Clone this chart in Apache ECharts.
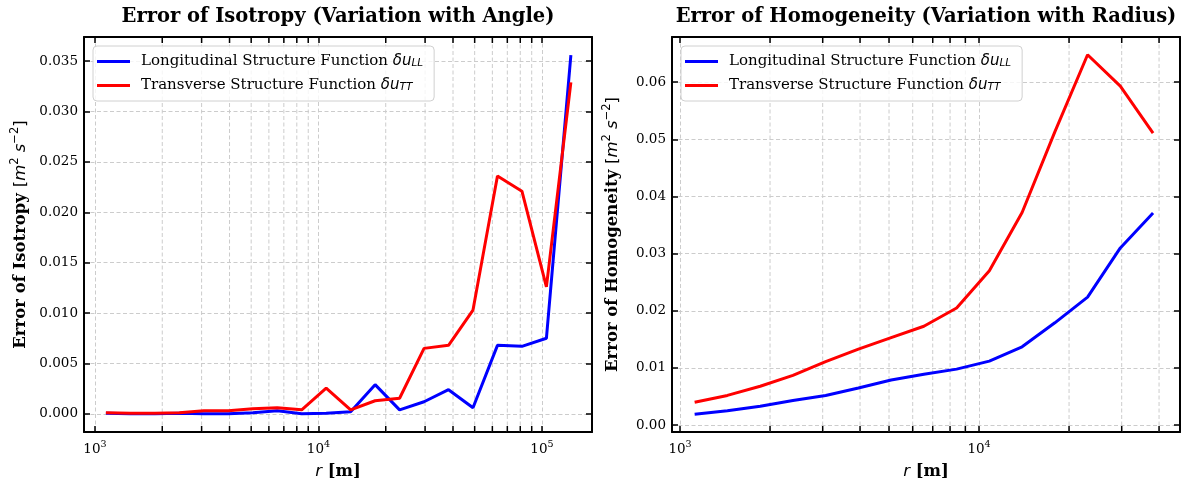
<!DOCTYPE html>
<html>
<head>
<meta charset="utf-8">
<script src="https://cdn.jsdelivr.net/npm/echarts@6/dist/echarts.min.js"></script>
<style>html,body{margin:0;padding:0;background:#fff}#main{width:1189px;height:489px}</style>
</head>
<body>
<div id="main"></div>
<script>
// separation r [m], shared by both panels
var r_vals = [1119, 1440, 1854, 2385, 3069, 3950, 5082, 6539, 8414, 10827, 13932, 17926, 23067, 29681, 38194, 49145, 63241, 81376, 104713, 134742];

// left: error of isotropy
var iso_LL = [0.00005, 0.0, 0.0, 0.00005, 0.0, 0.0, 0.0001, 0.0003, 0.0, 0.00005, 0.0002, 0.0029, 0.0004, 0.0012, 0.0024, 0.0006, 0.0068, 0.0067, 0.0075, 0.0356];
var iso_TT = [0.0001, 0.00007, 0.00005, 0.0001, 0.0003, 0.0003, 0.0005, 0.0006, 0.0004, 0.00255, 0.0004, 0.0013, 0.00155, 0.0065, 0.0068, 0.0103, 0.0236, 0.0221, 0.0126, 0.0329];

// right: error of homogeneity (first 15 r)
var homo_LL = [0.0019, 0.0025, 0.0033, 0.0043, 0.0052, 0.0065, 0.0079, 0.0089, 0.0098, 0.0112, 0.0137, 0.0179, 0.0224, 0.0310, 0.0371];
var homo_TT = [0.0040, 0.0052, 0.0068, 0.0087, 0.0111, 0.0133, 0.0153, 0.0173, 0.0205, 0.0270, 0.0372, 0.0513, 0.0648, 0.0593, 0.0511];

var seriesNames = ['Longitudinal Structure Function', 'Transverse Structure Function'];
var seriesSubs = ['LL', 'TT'];
var seriesColors = ['#0000ff', '#ff0000'];
var titles = ['Error of Isotropy (Variation with Angle)', 'Error of Homogeneity (Variation with Radius)'];
var yNames = ['Error of Isotropy', 'Error of Homogeneity'];

// minor ticks of the log axes
var minorLeft = [2000, 3000, 4000, 5000, 6000, 7000, 8000, 9000, 20000, 30000, 40000, 50000, 60000, 70000, 80000, 90000];
var minorRight = [2000, 3000, 4000, 5000, 6000, 7000, 8000, 9000, 20000, 30000, 40000];

var chart = echarts.init(document.getElementById('main'));

var FONT = 'DejaVu Serif';
var MATH = 'DejaVu Sans';

// panel ranges
var xRange = [[893, 167500], [940, 47000]];
var yRange = [[-0.0018, 0.0374], [-0.0012, 0.0679]];
var ySplit = [8, 7];
var yDigits = [3, 2];
var gridLeft = [84, 672];
var centers = [338, 926];

var gridLine = {show: true, lineStyle: {color: '#cccccc', width: 1, type: [4, 2.5]}};
var tick = {show: true, inside: true, length: 6, lineStyle: {color: '#000', width: 1.5}};
var frame = {show: true, onZero: false, lineStyle: {color: '#000', width: 2}};

function pairs(xs, ys) {
  var out = [];
  for (var i = 0; i < ys.length; i++) out.push([xs[i], ys[i]]);
  return out;
}

// minor grid lines + inward minor ticks (bottom and top) of a log axis
function minorSeries(k, ticks) {
  var y0 = yRange[k][0], y1 = yRange[k][1];
  return {
    type: 'custom', xAxisIndex: 2 * k, yAxisIndex: 2 * k, silent: true, z: 1,
    data: ticks.map(function (v) { return [v, 0]; }),
    encode: {x: 0, y: 1},
    renderItem: function (params, api) {
      var v = api.value(0);
      var p0 = api.coord([v, y0]);
      var p1 = api.coord([v, y1]);
      return {type: 'group', children: [
        {type: 'line', shape: {x1: p0[0], y1: p0[1], x2: p1[0], y2: p1[1]}, style: {stroke: '#cccccc', lineWidth: 1, lineDash: [4, 2.5]}},
        {type: 'line', shape: {x1: p0[0], y1: p0[1], x2: p0[0], y2: p0[1] - 6}, style: {stroke: '#000', lineWidth: 1.5}},
        {type: 'line', shape: {x1: p1[0], y1: p1[1], x2: p1[0], y2: p1[1] + 6}, style: {stroke: '#000', lineWidth: 1.5}}
      ]};
    }
  };
}

var grids = [], xAxes = [], yAxes = [], legends = [], titleList = [];
for (var k = 0; k < 2; k++) {
  grids.push({left: gridLeft[k], top: 37, width: 508, height: 395});
  titleList.push({
    text: titles[k], left: centers[k], top: 7, textAlign: 'center', padding: 0,
    textStyle: {fontFamily: FONT, fontWeight: 'bold', fontSize: 19.5, color: '#000'}
  });
  // bottom + top x axes
  xAxes.push({
    type: 'log', logBase: 10, gridIndex: k, position: 'bottom', min: xRange[k][0], max: xRange[k][1],
    axisLine: frame, axisTick: tick, splitLine: gridLine, minorTick: {show: false},
    axisLabel: {
      showMinLabel: false, showMaxLabel: false, margin: 8, color: '#000',
      formatter: function (v) { return '{b|10}{sup|' + Math.round(Math.log10(v)) + '}'; },
      rich: {
        b: {fontFamily: FONT, fontSize: 13.5, color: '#000', lineHeight: 18},
        sup: {fontFamily: FONT, fontSize: 9.5, color: '#000', verticalAlign: 'top', lineHeight: 10}
      }
    },
    name: '{i|r}{b| [m]}', nameLocation: 'middle', nameGap: 31,
    nameTextStyle: {
      rich: {
        i: {fontFamily: MATH, fontStyle: 'italic', fontSize: 16.5, color: '#000'},
        b: {fontFamily: FONT, fontWeight: 'bold', fontSize: 16.5, color: '#000'}
      }
    }
  });
  xAxes.push({
    type: 'log', logBase: 10, gridIndex: k, position: 'top', min: xRange[k][0], max: xRange[k][1],
    axisLine: frame, axisTick: tick, axisLabel: {show: false}, splitLine: {show: false}
  });
  // left + right y axes
  yAxes.push({
    type: 'value', gridIndex: k, position: 'left', min: yRange[k][0], max: yRange[k][1], splitNumber: ySplit[k],
    axisLine: frame, axisTick: tick, splitLine: gridLine,
    axisLabel: {
      showMinLabel: false, showMaxLabel: false, margin: 6, color: '#000', fontFamily: FONT, fontSize: 13.5,
      formatter: (function (d) { return function (v) { return v.toFixed(d); }; })(yDigits[k])
    },
    name: '{b|' + yNames[k] + ' }{r|[}{i|m}{sup|2}{i| s}{sup|−2}{r|]}', nameLocation: 'middle', nameGap: [51, 47][k],
    nameTextStyle: {
      rich: {
        b: {fontFamily: FONT, fontWeight: 'bold', fontSize: 16.5, color: '#000', lineHeight: 24},
        r: {fontFamily: MATH, fontSize: 16.5, color: '#000', lineHeight: 24},
        i: {fontFamily: MATH, fontStyle: 'italic', fontSize: 16.5, color: '#000', lineHeight: 24},
        sup: {fontFamily: MATH, fontSize: 11.5, color: '#000', verticalAlign: 'top', lineHeight: 13}
      }
    }
  });
  yAxes.push({
    type: 'value', gridIndex: k, position: 'right', min: yRange[k][0], max: yRange[k][1], splitNumber: ySplit[k],
    axisLine: frame, axisTick: tick, axisLabel: {show: false}, splitLine: {show: false}
  });
  legends.push({
    left: gridLeft[k] + 9, top: 46, orient: 'vertical', data: seriesNames, selectedMode: false,
    icon: 'rect', itemWidth: 33, itemHeight: 3, itemGap: 9,
    padding: [8, 11, 8, 4], borderColor: '#d0d0d0', borderWidth: 1, borderRadius: 4,
    backgroundColor: 'rgba(255,255,255,0.8)', z: 10,
    formatter: function (name) {
      return name + ' {m|δu}{s|' + seriesSubs[seriesNames.indexOf(name)] + '}';
    },
    textStyle: {
      fontFamily: FONT, fontSize: 15, color: '#000', padding: [0, 0, 0, 6],
      rich: {
        m: {fontFamily: MATH, fontStyle: 'italic', fontSize: 15, color: '#000'},
        s: {fontFamily: MATH, fontStyle: 'italic', fontSize: 10.5, color: '#000', verticalAlign: 'bottom', lineHeight: 10}
      }
    }
  });
}

function lineSeries(k, idx, ys) {
  return {
    name: seriesNames[idx], type: 'line', xAxisIndex: 2 * k, yAxisIndex: 2 * k,
    data: pairs(r_vals, ys), showSymbol: false, symbol: 'none', z: 3,
    color: seriesColors[idx],
    lineStyle: {color: seriesColors[idx], width: 3}
  };
}

chart.setOption({
  backgroundColor: '#fff',
  animation: false,
  title: titleList,
  grid: grids,
  xAxis: xAxes,
  yAxis: yAxes,
  legend: legends,
  series: [
    minorSeries(0, minorLeft),
    minorSeries(1, minorRight),
    lineSeries(0, 0, iso_LL),
    lineSeries(0, 1, iso_TT),
    lineSeries(1, 0, homo_LL),
    lineSeries(1, 1, homo_TT)
  ]
});
</script>
</body>
</html>
